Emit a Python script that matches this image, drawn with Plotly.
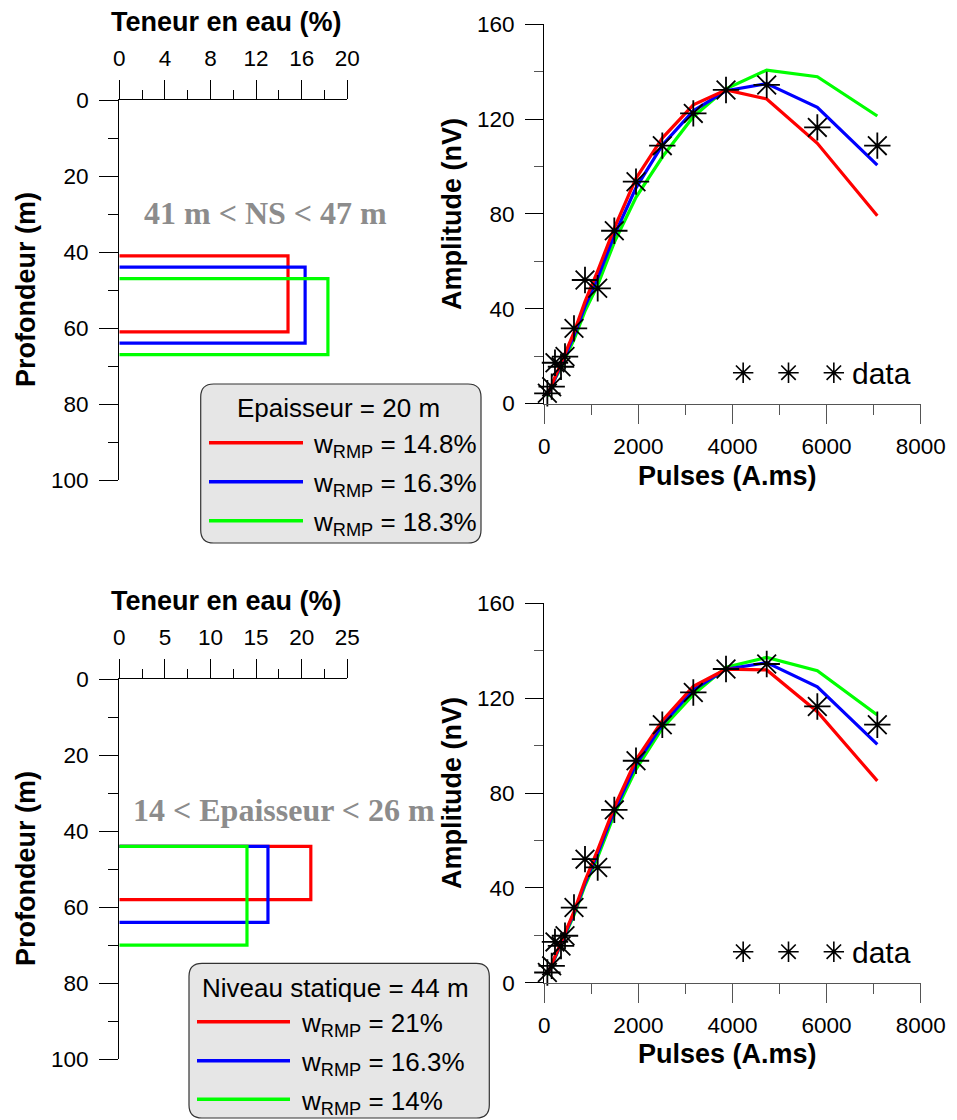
import plotly.graph_objects as go

# ---------------- data ----------------
# Profiles (top: fixed thickness 20 m, bottom: fixed static level 44 m)
top_names = ["14.8%", "16.3%", "18.3%"]
top_w = [14.8, 16.3, 18.3]          # water content (%)
top_ztop = [41, 44, 47]             # top of layer (m)
top_zbot = [61, 64, 67]             # bottom of layer (m)

bot_names = ["21%", "16.3%", "14%"]
bot_w = [21, 16.3, 14]
bot_ztop = [44, 44, 44]
bot_zbot = [58, 64, 70]

colors = ["#ff0000", "#0000ff", "#00ff00"]

# Sounding curves
pulses = [65, 157, 227, 355, 440, 631, 865, 1135, 1488, 1949, 2508, 3167, 3862, 4727, 5803, 7078]
data_amp = [4.3, 7.1, 17.2, 15.5, 19.8, 31.7, 52.1, 48.6, 72.9, 93.6, 108.8, 122.4, 132.3, 134.4, 116.5, 108.8]

top_red = [3.5, 8, 11.5, 17, 21, 30, 43, 56, 74, 95, 112, 126, 132.3, 128.5, 109.8, 79.2]
top_blue = [3.3, 7.5, 11, 16, 20, 28.5, 41, 53, 71, 91, 109, 123.5, 132, 135, 125, 100.6]
top_green = [3.0, 7, 10.5, 15, 19, 27, 39, 50, 68, 87, 104, 121, 132.8, 140.7, 137.9, 121.3]

bot_red = [3.5, 8, 11.5, 17, 21, 30, 43, 56, 74, 94, 110.5, 125, 132.2, 131.9, 114.3, 85.1]
bot_blue = [3.4, 7.8, 11.2, 16.5, 20.5, 29.3, 42, 54.5, 72.5, 92, 108.8, 123.5, 132.2, 135, 124.8, 100.5]
bot_green = [3.2, 7.5, 10.8, 16, 20, 28.5, 41, 53, 71, 90, 107.3, 121.5, 133, 137.2, 131.6, 112.9]

legend_sample_pos = [0, 1, 2]   # the "data" legend shows three star samples
data_label = "data"

# ---------------- layout helpers ----------------
W, H = 957, 1120
def X(px):
    return px / W
def Y(py):
    return 1 - py / H

SANS = "Liberation Sans, Arial, sans-serif"
SERIF = "Liberation Serif, Times New Roman, serif"
TICKF = dict(family=SANS, size=22.5, color="black")

fig = go.Figure()

# ---- profile traces ----
def add_profiles(ws, zt, zb, xa, ya):
    for w, a, b, c in zip(ws, zt, zb, colors):
        fig.add_trace(go.Scatter(
            x=[0, w, w, 0], y=[a, a, b, b], mode="lines",
            line=dict(color=c, width=3.2), xaxis=xa, yaxis=ya,
            showlegend=False, hoverinfo="skip"))

add_profiles(top_w, top_ztop, top_zbot, "x", "y")
add_profiles(bot_w, bot_ztop, bot_zbot, "x3", "y3")

# ---- sounding curves ----
def star(size, lw):
    return dict(symbol="asterisk-open", size=size, color="black",
                line=dict(width=lw, color="black"))

def add_sounding(red, blue, green, xa, ya, lxa, lya):
    for vals, c in zip([green, blue, red], [colors[2], colors[1], colors[0]]):
        fig.add_trace(go.Scatter(x=pulses, y=vals, mode="lines",
                                 line=dict(color=c, width=3.2), xaxis=xa, yaxis=ya,
                                 showlegend=False, hoverinfo="skip"))
    fig.add_trace(go.Scatter(x=pulses, y=data_amp, mode="markers", marker=star(22, 1.8),
                             name=data_label, xaxis=xa, yaxis=ya,
                             showlegend=False, cliponaxis=False))
    # legend sample (three stars)
    fig.add_trace(go.Scatter(x=legend_sample_pos, y=[0] * len(legend_sample_pos),
                             mode="markers", marker=star(17, 1.6), xaxis=lxa, yaxis=lya,
                             showlegend=False, cliponaxis=False, hoverinfo="skip"))

add_sounding(top_red, top_blue, top_green, "x2", "y2", "x5", "y5")
add_sounding(bot_red, bot_blue, bot_green, "x4", "y4", "x6", "y6")

# ---- axes ----
def prof_x(dtick, mdt, rng):
    return dict(range=rng, side="top", domain=[X(119.3), X(347.3)],
                showline=True, linecolor="black", linewidth=1.3,
                ticks="outside", ticklen=19, tickwidth=1.3, tickcolor="black",
                dtick=dtick, tick0=0, showgrid=False, zeroline=False, automargin=False,
                tickfont=TICKF, ticklabelstandoff=5,
                minor=dict(ticks="outside", dtick=mdt, ticklen=9, tickwidth=1.3,
                           tickcolor="black", showgrid=False))

def prof_y(d0, d1):
    return dict(range=[100, 0], domain=[Y(d1), Y(d0)],
                showline=True, linecolor="black", linewidth=1.3,
                ticks="outside", ticklen=19, tickwidth=1.3, tickcolor="black",
                dtick=20, tick0=0, showgrid=False, zeroline=False, automargin=False,
                tickfont=TICKF, ticklabelstandoff=6,
                minor=dict(ticks="outside", dtick=10, ticklen=10, tickwidth=1.3,
                           tickcolor="black", showgrid=False))

def amp_x():
    return dict(range=[0, 8000], domain=[X(544.3), X(920.7)],
                showline=True, linecolor="#555555", linewidth=1.3,
                ticks="outside", ticklen=19, tickwidth=1.3, tickcolor="#555555",
                dtick=2000, tick0=0, showgrid=False, zeroline=False, automargin=False,
                tickfont=TICKF, ticklabelstandoff=3,
                minor=dict(ticks="outside", dtick=1000, ticklen=10, tickwidth=1.3,
                           tickcolor="#555555", showgrid=False))

def amp_y(d0, d1):
    return dict(range=[0, 160], domain=[Y(d1), Y(d0)],
                showline=True, linecolor="black", linewidth=1.3,
                ticks="outside", ticklen=18, tickwidth=1.3, tickcolor="black",
                dtick=40, tick0=0, showgrid=False, zeroline=False, automargin=False,
                tickfont=TICKF, ticklabelstandoff=6,
                minor=dict(ticks="outside", dtick=20, ticklen=9, tickwidth=1.3,
                           tickcolor="#555555", showgrid=False))

def hidden(dom, rng, anchor):
    return dict(domain=dom, range=rng, visible=False, fixedrange=True, anchor=anchor)

fig.update_layout(
    width=W, height=H, margin=dict(l=0, r=0, t=0, b=0),
    paper_bgcolor="white", plot_bgcolor="rgba(0,0,0,0)", showlegend=False,
    xaxis=dict(prof_x(4, 2, [0, 20]), anchor="y"),
    yaxis=dict(prof_y(100, 480), anchor="x"),
    xaxis3=dict(prof_x(5, 2.5, [0, 25]), anchor="y3"),
    yaxis3=dict(prof_y(679.3, 1059), anchor="x3"),
    xaxis2=dict(amp_x(), anchor="y2"),
    yaxis2=dict(amp_y(24.3, 403.5), anchor="x2"),
    xaxis4=dict(amp_x(), anchor="y4"),
    yaxis4=dict(amp_y(603.3, 982.7), anchor="x4"),
    xaxis5=hidden([X(720.5), X(856.5)], [-0.5, 2.5], "y5"),
    yaxis5=hidden([Y(392.7), Y(352.7)], [-1, 1], "x5"),
    xaxis6=hidden([X(720.5), X(856.5)], [-0.5, 2.5], "y6"),
    yaxis6=hidden([Y(971.7), Y(931.7)], [-1, 1], "x6"),
)

# ---- annotations: axis titles ----
ann = []
def title(text, px, py, angle=0, size=27):
    ann.append(dict(text="<b>%s</b>" % text, x=X(px), y=Y(py), xref="paper", yref="paper",
                    showarrow=False, xanchor="center", yanchor="middle", textangle=angle,
                    font=dict(family=SANS, size=size, color="black")))

title("Teneur en eau (%)", 226, 22)
title("Teneur en eau (%)", 226, 601)
title("Profondeur (m)", 26, 290, -90)
title("Profondeur (m)", 26, 869, -90)
title("Amplitude (nV)", 452, 214, -90)
title("Amplitude (nV)", 452, 793, -90)
title("Pulses (A.ms)", 727, 476)
title("Pulses (A.ms)", 727, 1054)

# "data" legend labels
for py in (372.7, 951.7):
    ann.append(dict(text=data_label, x=X(850), y=Y(py + 1), xref="paper", yref="paper",
                    showarrow=False, xanchor="left", yanchor="middle",
                    font=dict(family=SANS, size=30, color="black")))

# gray comment texts
ann.append(dict(text="<b>41 m &lt; NS &lt; 47 m</b>", x=X(265), y=Y(213), xref="paper", yref="paper",
                showarrow=False, xanchor="center", yanchor="middle",
                font=dict(family=SERIF, size=32, color="#8c8c8c")))
ann.append(dict(text="<b>14 &lt; Epaisseur &lt; 26 m</b>", x=X(284), y=Y(810), xref="paper", yref="paper",
                showarrow=False, xanchor="center", yanchor="middle",
                font=dict(family=SERIF, size=32, color="#8c8c8c")))

# ---- custom legends for the profiles ----
shapes = []
def rrect(x0, y0, x1, y1, r):
    def P(px, py):
        return "%.5f,%.5f" % (X(px), Y(py))
    path = ("M %s L %s Q %s %s L %s Q %s %s L %s Q %s %s L %s Q %s %s Z" % (
        P(x0 + r, y0), P(x1 - r, y0), P(x1, y0), P(x1, y0 + r),
        P(x1, y1 - r), P(x1, y1), P(x1 - r, y1), P(x0 + r, y1),
        P(x0, y1), P(x0, y1 - r), P(x0, y0 + r), P(x0, y0), P(x0 + r, y0)))
    shapes.append(dict(type="path", path=path, xref="paper", yref="paper",
                       fillcolor="#e6e6e6", line=dict(color="#333333", width=1.2), layer="below"))

def profile_legend(box, head, head_x, head_y, lx0, lx1, ly, tx, names):
    rrect(*box, 13)
    ann.append(dict(text=head, x=X(head_x), y=Y(head_y), xref="paper", yref="paper",
                    showarrow=False, xanchor="center", yanchor="middle",
                    font=dict(family=SANS, size=26, color="black")))
    for n, c, yy in zip(names, colors, ly):
        shapes.append(dict(type="line", x0=X(lx0), x1=X(lx1), y0=Y(yy), y1=Y(yy),
                           xref="paper", yref="paper", line=dict(color=c, width=3.5)))
        ann.append(dict(text="w<sub>RMP</sub> = %s" % n, x=X(tx), y=Y(yy + 3), xref="paper", yref="paper",
                        showarrow=False, xanchor="left", yanchor="middle",
                        font=dict(family=SANS, size=26, color="black")))

profile_legend((200.7, 384, 481, 543), "Epaisseur = 20 m", 338, 408,
               209, 303, [442.7, 481.7, 520.7], 311, top_names)
profile_legend((189, 963.3, 489.3, 1118), "Niveau statique = 44 m", 335, 988,
               197, 290, [1021.7, 1060.7, 1099.3], 299, bot_names)

fig.update_layout(annotations=ann, shapes=shapes)

fig.write_html("out.html", config={"displayModeBar": False},
               post_script="document.body.style.margin='0';"
                           "document.body.style.padding='0';"
                           "document.documentElement.style.overflow='hidden';")
